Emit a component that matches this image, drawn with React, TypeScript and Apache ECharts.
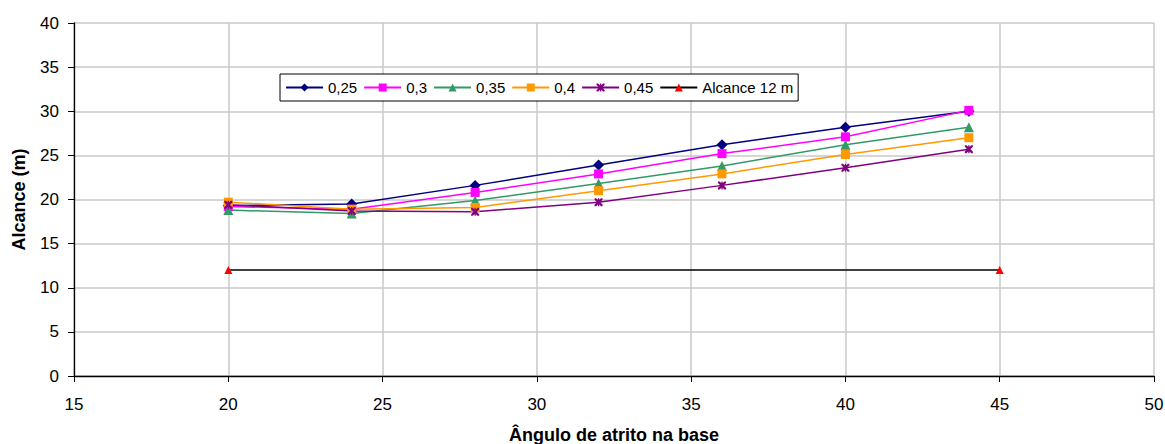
import React, { useEffect, useRef } from "react";
import * as echarts from "echarts";

// Ângulo de atrito na base (graus)
const angles = [20, 24, 28, 32, 36, 40, 44];

// Alcance (m) for each coefficient
const s025 = [19.3, 19.5, 21.6, 23.9, 26.2, 28.2, 30.0];
const s030 = [19.2, 18.9, 20.8, 22.9, 25.2, 27.1, 30.1];
const s035 = [18.8, 18.4, 19.9, 21.8, 23.8, 26.2, 28.2];
const s040 = [19.7, 18.9, 19.1, 21.0, 22.9, 25.1, 27.0];
const s045 = [19.4, 18.7, 18.6, 19.7, 21.6, 23.6, 25.7];

// Reference reach line
const refX = [20, 45];
const refY = [12, 12];

const seriesNames = ["0,25", "0,3", "0,35", "0,4", "0,45", "Alcance 12 m"];

const FONT = "Arial, 'Liberation Sans', sans-serif";

const asterisk =
  "path://M0,0 L2,0 L5,3 L8,0 L10,0 L10,2 L7,5 L10,8 L10,10 L8,10 L5,7 L2,10 L0,10 L0,8 L3,5 L0,2 Z M4.2,0 L5.8,0 L5.8,10 L4.2,10 Z";

function pairs(xs: number[], ys: number[]) {
  return xs.map((x, i) => [x, ys[i]]);
}

export default function App() {
  const ref = useRef<HTMLDivElement>(null);

  useEffect(() => {
    if (!ref.current) return;
    const chart = echarts.init(ref.current, null, { renderer: "svg" });

    const mk = (
      name: string,
      ys: number[],
      color: string,
      symbol: string,
      size: number,
      xs: number[] = angles,
      markerColor?: string
    ) => ({
      name,
      type: "line",
      data: pairs(xs, ys),
      symbol,
      symbolSize: size,
      showAllSymbol: true,
      lineStyle: { color, width: 1.5 },
      itemStyle: { color: markerColor || color, borderWidth: 0 },
      emphasis: { disabled: true },
    });

    chart.setOption({
      animation: false,
      backgroundColor: "#ffffff",
      grid: {
        left: 74,
        right: 11,
        top: 23,
        bottom: 68,
        containLabel: false,
        outerBoundsMode: "none",
      },
      legend: {
        data: seriesNames,
        left: 280,
        top: 74,
        orient: "horizontal",
        backgroundColor: "#ffffff",
        borderColor: "#000000",
        borderWidth: 1,
        padding: [6, 5, 6, 5],
        itemWidth: 37,
        itemHeight: 10,
        itemGap: 6,
        textStyle: { fontFamily: FONT, fontSize: 15, color: "#000" },
      },
      xAxis: {
        type: "value",
        min: 15,
        max: 50,
        interval: 5,
        name: "Ângulo de atrito na base",
        nameLocation: "middle",
        nameGap: 50,
        nameTextStyle: { fontFamily: FONT, fontSize: 18, fontWeight: "bold", color: "#000" },
        axisLine: { show: true, onZero: false, lineStyle: { color: "#000", width: 1.3 } },
        axisTick: { show: true, length: 6, lineStyle: { color: "#000" } },
        axisLabel: { fontFamily: FONT, fontSize: 17, color: "#000", margin: 20 },
        splitLine: { show: true, lineStyle: { color: "#c8c8c8", width: 1.5 } },
      },
      yAxis: {
        type: "value",
        min: 0,
        max: 40,
        interval: 5,
        name: "Alcance (m)",
        nameLocation: "middle",
        nameGap: 46,
        nameRotate: 90,
        nameTextStyle: { fontFamily: FONT, fontSize: 18, fontWeight: "bold", color: "#000" },
        axisLine: { show: true, lineStyle: { color: "#000", width: 1.3 } },
        axisTick: { show: true, length: 6, lineStyle: { color: "#000" } },
        axisLabel: { fontFamily: FONT, fontSize: 17, color: "#000", margin: 15 },
        splitLine: { show: true, lineStyle: { color: "#c8c8c8", width: 1.5 } },
      },
      series: [
        mk(seriesNames[0], s025, "#000080", "diamond", 11),
        mk(seriesNames[1], s030, "#ff00ff", "rect", 9),
        mk(seriesNames[2], s035, "#339966", "triangle", 10),
        mk(seriesNames[3], s040, "#ff9900", "rect", 9),
        mk(seriesNames[4], s045, "#800080", asterisk, 8),
        mk(seriesNames[5], refY, "#000000", "triangle", 8, refX, "#ff0000"),
      ],
    });

    return () => chart.dispose();
  }, []);

  return (
    <div
      ref={ref}
      style={{ position: "fixed", left: 0, top: 0, width: 1165, height: 444 }}
    />
  );
}
